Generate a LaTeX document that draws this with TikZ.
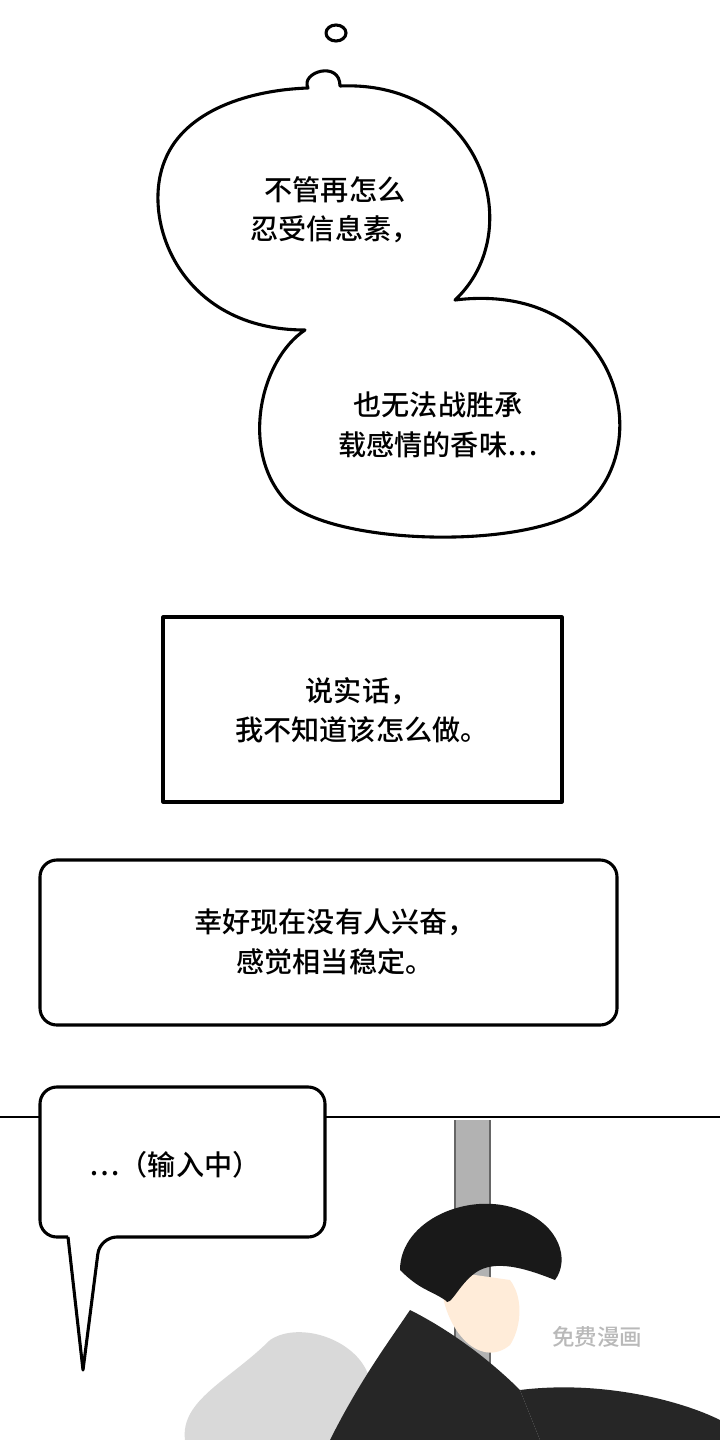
\documentclass[tikz,border=0pt]{standalone}
\usepackage{fontspec}
\newfontfamily\cjk{Noto Sans CJK SC Medium}
\tikzset{
  bubble/.style={draw=black, fill=white, line width=2.2pt, line join=round},
  talk/.style={font=\cjk\fontsize{20}{28}\selectfont, align=center},
}
\begin{document}
\begin{tikzpicture}[x=0.025cm, y=-0.025cm]
\useasboundingbox[fill=white] (0,0) rectangle (720,1440);

% thought bubble
\draw[bubble] (336,33) ellipse (10 and 8);
\draw[bubble] (308,88) .. controls (300,72) and (340,60) .. (340,86)
  .. controls (480,80) and (530,230) .. (455,300)
  .. controls (620,280) and (660,450) .. (580,510)
  .. controls (520,550) and (330,545) .. (285,500)
  .. controls (240,450) and (260,360) .. (305,330)
  .. controls (180,330) and (140,220) .. (165,160)
  .. controls (185,110) and (250,90) .. (308,88) -- cycle;
\node[talk] (t1) at (335,210) {不管再怎么\\忍受信息素，};
\node[talk] (t2) at (438,425) {也无法战胜承\\载感情的香味…};

% boxes
\draw[bubble] (163,617) rectangle (562,802);
\node[talk] (t3) at (362,710) {说实话，\\我不知道该怎么做。};
\draw[bubble, rounded corners=12] (40,860) rectangle (617,1025);
\node[talk] (t4) at (335,942) {幸好现在没有人兴奋，\\感觉相当稳定。};

% panel border
\draw[line width=1.2pt] (0,1117) -- (720,1117);

% pole and figure
\fill[gray!60] (455,1120) rectangle (490,1440);
\draw[gray!80!black, line width=1pt] (455,1120) -- (455,1440) (490,1120) -- (490,1440);
\fill[gray!30] (270,1340) .. controls (300,1320) and (360,1340) .. (370,1380) -- (360,1440) -- (185,1440) .. controls (180,1400) and (230,1380) .. (270,1340);
\fill[black!85] (330,1440) .. controls (360,1380) and (390,1340) .. (410,1310)
  .. controls (450,1330) and (490,1360) .. (520,1390) -- (540,1440) -- cycle;
\fill[black!85] (520,1390) .. controls (600,1380) and (680,1400) .. (720,1420) -- (720,1440) -- (540,1440) -- cycle;
\fill[orange!15] (440,1270) .. controls (440,1330) and (480,1370) .. (510,1345)
  .. controls (520,1330) and (525,1300) .. (510,1280) -- cycle;
\fill[black!90] (400,1270) .. controls (400,1220) and (470,1190) .. (520,1210)
  .. controls (560,1225) and (570,1260) .. (555,1280)
  .. controls (530,1270) and (500,1260) .. (480,1270)
  .. controls (460,1280) and (450,1310) .. (445,1300)
  .. controls (430,1290) and (420,1290) .. (400,1270) -- cycle;
\node[text=gray!55, font=\cjk\fontsize{16}{18}\selectfont] (wm) at (597,1337) {免费漫画};

% speech bubble
\draw[bubble, rounded corners=12] (68,1237) -- (40,1237) -- (40,1087) -- (325,1087) -- (325,1237) -- (100,1237) [sharp corners] -- (83,1370) -- (68,1237);
\node[talk] (t5) at (175,1165) {…（输入中）};
\end{tikzpicture}
\end{document}
